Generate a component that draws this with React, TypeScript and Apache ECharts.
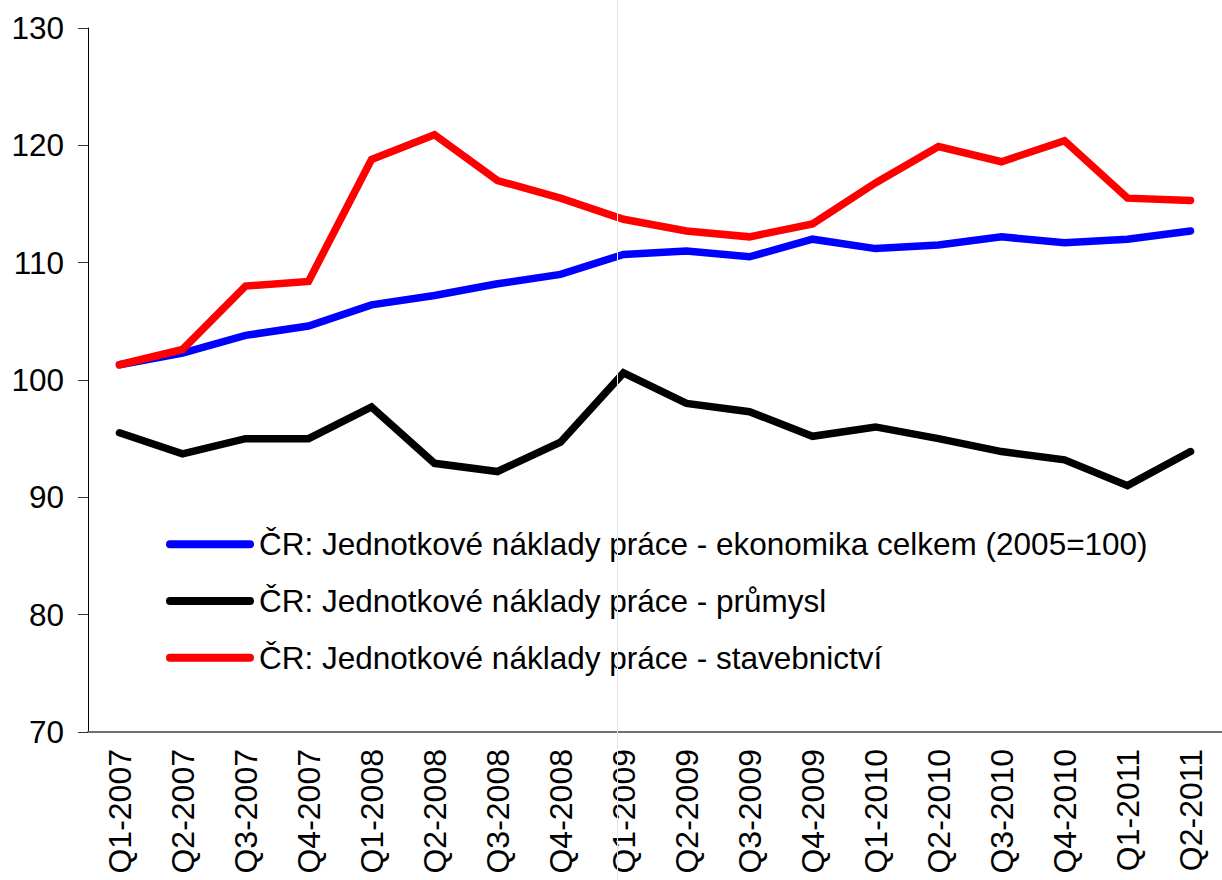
import React, { useEffect, useRef } from "react";
import * as echarts from "echarts";

const categories = [
  "Q1-2007", "Q2-2007", "Q3-2007", "Q4-2007",
  "Q1-2008", "Q2-2008", "Q3-2008", "Q4-2008",
  "Q1-2009", "Q2-2009", "Q3-2009", "Q4-2009",
  "Q1-2010", "Q2-2010", "Q3-2010", "Q4-2010",
  "Q1-2011", "Q2-2011",
];

const seriesNames = [
  "ČR: Jednotkové náklady práce - ekonomika celkem (2005=100)",
  "ČR: Jednotkové náklady práce - průmysl",
  "ČR: Jednotkové náklady práce - stavebnictví",
];

const ekonomika = [
  101.3, 102.3, 103.8, 104.6, 106.4, 107.2, 108.2, 109.0,
  110.7, 111.0, 110.5, 112.0, 111.2, 111.5, 112.2, 111.7,
  112.0, 112.7,
];

const prumysl = [
  95.5, 93.7, 95.0, 95.0, 97.7, 92.9, 92.2, 94.7,
  100.6, 98.0, 97.3, 95.2, 96.0, 95.0, 93.9, 93.2,
  91.0, 93.9,
];

const stavebnictvi = [
  101.3, 102.6, 108.0, 108.4, 118.8, 120.9, 117.0, 115.5,
  113.7, 112.7, 112.2, 113.3, 116.8, 119.9, 118.6, 120.4,
  115.5, 115.3,
];

const colors = ["#0000ff", "#000000", "#ff0000"];

const FONT = "'Liberation Sans', Arial, sans-serif";

const LEGEND_ICON =
  "path://M4,0 H84 A4,4 0 0 1 84,8 H4 A4,4 0 0 1 4,0 Z";

export default function App() {
  const ref = useRef<HTMLDivElement>(null);

  useEffect(() => {
    document.body.style.margin = "0";
    if (!ref.current) return;
    const chart = echarts.init(ref.current, null, { renderer: "svg" });
    const values = [ekonomika, prumysl, stavebnictvi];
    chart.setOption({
      animation: false,
      backgroundColor: "#ffffff",
      textStyle: { fontFamily: FONT },
      grid: { left: 88, top: 28, bottom: 148, right: -11, containLabel: false },
      legend: {
        orient: "vertical",
        left: 161,
        top: 521,
        itemWidth: 88,
        itemHeight: 8,
        itemGap: 20,
        icon: LEGEND_ICON,
        data: seriesNames,
        textStyle: {
          fontSize: 31.5,
          color: "#000",
          fontFamily: FONT,
          lineHeight: 36.7,
        },
      },
      xAxis: {
        type: "category",
        data: categories,
        boundaryGap: true,
        axisLine: { show: true, lineStyle: { color: "#6f6f6f", width: 2 } },
        axisTick: { show: false },
        axisLabel: {
          rotate: 90,
          margin: 17,
          fontSize: 32,
          color: "#000",
          fontFamily: FONT,
          interval: 0,
          padding: [0, 0, 8, 0],
        },
        splitLine: { show: false },
      },
      yAxis: {
        type: "value",
        min: 70,
        max: 130,
        interval: 10,
        axisLine: { show: true, lineStyle: { color: "#000", width: 1 } },
        axisTick: { show: true, length: 10, lineStyle: { color: "#333", width: 1 } },
        axisLabel: { margin: 24, fontSize: 31.5, color: "#000", fontFamily: FONT },
        splitLine: { show: false },
      },
      series: seriesNames.map((name, i) => ({
        name,
        type: "line",
        data: values[i],
        symbol: "none",
        showSymbol: false,
        color: colors[i],
        lineStyle: { color: colors[i], width: 7.5, cap: "round", join: "miter" },
        z: 2 + i,
      })),
      graphic: [
        {
          type: "line",
          z: 100,
          shape: { x1: 617.5, y1: 0, x2: 617.5, y2: 880 },
          style: { stroke: "#e4e4e4", lineWidth: 1 },
        },
      ],
    });
    return () => chart.dispose();
  }, []);

  return <div ref={ref} style={{ width: 1222, height: 880 }} />;
}
